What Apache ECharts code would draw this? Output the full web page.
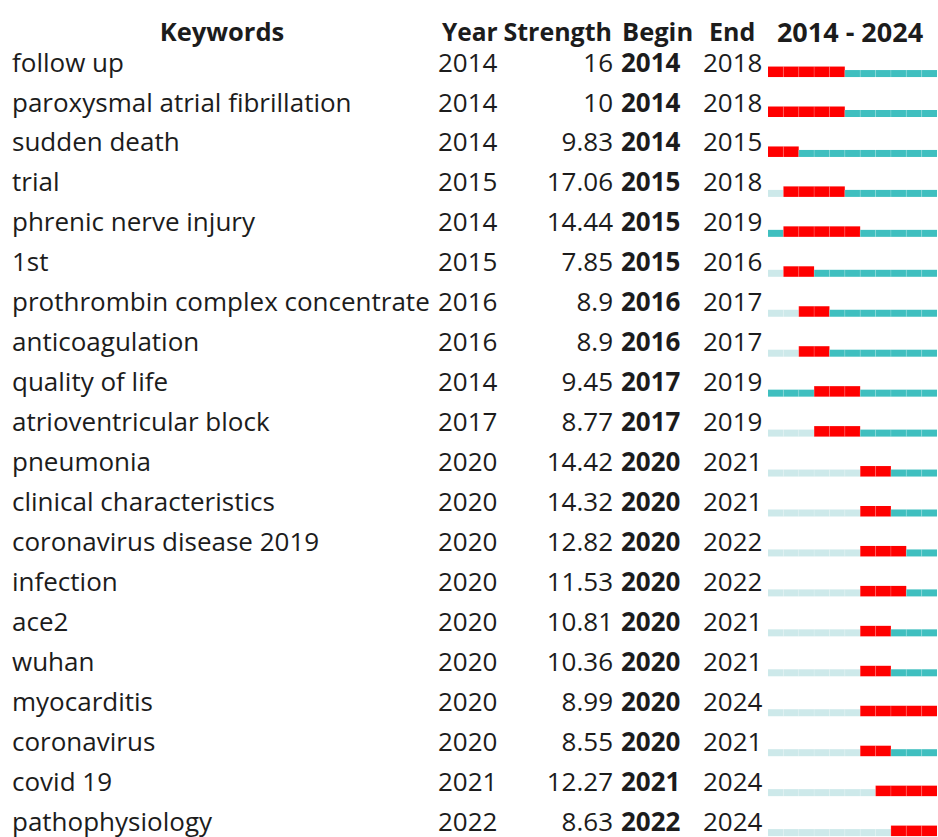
<!DOCTYPE html>
<html>
<head>
<meta charset="utf-8">
<script src="https://cdn.jsdelivr.net/npm/echarts@6/dist/echarts.min.js"></script>
<style>
html,body{margin:0;padding:0;background:#fff;}
#chart{width:938px;height:837px;}
</style>
</head>
<body>
<div id="chart"></div>
<script>
const keywords = ['follow up','paroxysmal atrial fibrillation','sudden death','trial','phrenic nerve injury','1st','prothrombin complex concentrate','anticoagulation','quality of life','atrioventricular block','pneumonia','clinical characteristics','coronavirus disease 2019','infection','ace2','wuhan','myocarditis','coronavirus','covid 19','pathophysiology'];
const firstYears = [2014,2014,2014,2015,2014,2015,2016,2016,2014,2017,2020,2020,2020,2020,2020,2020,2020,2020,2021,2022];
const strengths = ['16','10','9.83','17.06','14.44','7.85','8.9','8.9','9.45','8.77','14.42','14.32','12.82','11.53','10.81','10.36','8.99','8.55','12.27','8.63'];
const begins = [2014,2014,2014,2015,2015,2015,2016,2016,2017,2017,2020,2020,2020,2020,2020,2020,2020,2020,2021,2022];
const ends = [2018,2018,2015,2018,2019,2016,2017,2017,2019,2019,2021,2021,2022,2022,2021,2021,2024,2021,2024,2024];
const headers = ['Keywords','Year','Strength','Begin','End','2014 - 2024'];
const spanStart = 2014, spanEnd = 2024;

// build cell table: [year, row, type] type 0=before first year, 1=active, 2=burst
const cells = [];
keywords.forEach((k, i) => {
  for (let y = spanStart; y <= spanEnd; y++) {
    let t = y < firstYears[i] ? 0 : ((y >= begins[i] && y <= ends[i]) ? 2 : 1);
    cells.push([y, i, t]);
  }
});
const textRows = [-1].concat(keywords.map((k, i) => i));

const FF = '"Open Sans", "Noto Sans", sans-serif';
const FS = 26;
const TXT = '#1c1c1c';
const colors = ['#cde9ea', '#3fbfbf', '#ff0000'];

const chart = echarts.init(document.getElementById('chart'), null, {renderer: 'svg'});
chart.setOption({
  animation: false,
  grid: {left: 768, right: 1, top: 32.1, height: 799},
  xAxis: {type: 'value', min: spanStart, max: spanEnd + 1, show: false},
  yAxis: {type: 'value', min: -1, max: 19, inverse: true, show: false},
  series: [
    {
      type: 'custom',
      clip: false,
      data: cells,
      renderItem: function (params, api) {
        const y = api.value(0), r = api.value(1), t = api.value(2);
        const p0 = api.coord([y, r]);
        const p1 = api.coord([y + 1, r]);
        const c = p0[1];
        const top = t === 2 ? c - 5.5 : c - 2;
        const h = t === 2 ? 10.5 : 7;
        const children = [{
          type: 'rect',
          shape: {x: p0[0], y: top, width: p1[0] - p0[0], height: h},
          style: {fill: colors[t]}
        }];
        if (y > spanStart) {
          children.push({
            type: 'rect',
            shape: {x: p0[0] - 0.5, y: top, width: 1, height: h},
            style: {fill: 'rgba(255,255,255,0.18)'}
          });
        }
        return {type: 'group', children: children};
      }
    },
    {
      type: 'custom',
      clip: false,
      data: textRows,
      renderItem: function (params, api) {
        const r = api.value(0);
        const c = api.coord([spanStart, r])[1];
        const mk = (text, x, align, bold, dy, fs) => ({
          type: 'text',
          style: {
            text: text, x: x, y: c + dy, fill: TXT,
            fontSize: fs || FS, fontFamily: FF, fontWeight: bold ? 'bold' : 'normal',
            lineHeight: 28,
            align: align, verticalAlign: 'middle'
          }
        });
        let children;
        if (r < 0) {
          const dy = -1;
          children = [
            mk(headers[0], 222, 'center', true, dy, 25.5),
            mk(headers[1], 442, 'left', true, dy, 24.5),
            mk(headers[2], 612, 'right', true, dy, 25),
            mk(headers[3], 622, 'left', true, dy, 25.5),
            mk(headers[4], 709, 'left', true, dy, 25),
            mk(headers[5], 850, 'center', true, dy, 27)
          ];
        } else {
          const dy = -10.5;
          children = [
            mk(keywords[r], 12, 'left', false, dy),
            mk(String(firstYears[r]), 438, 'left', false, dy),
            mk(strengths[r], 613, 'right', false, dy),
            mk(String(begins[r]), 621, 'left', true, dy),
            mk(String(ends[r]), 703, 'left', false, dy)
          ];
        }
        return {type: 'group', children: children};
      }
    }
  ]
});
</script>
</body>
</html>
